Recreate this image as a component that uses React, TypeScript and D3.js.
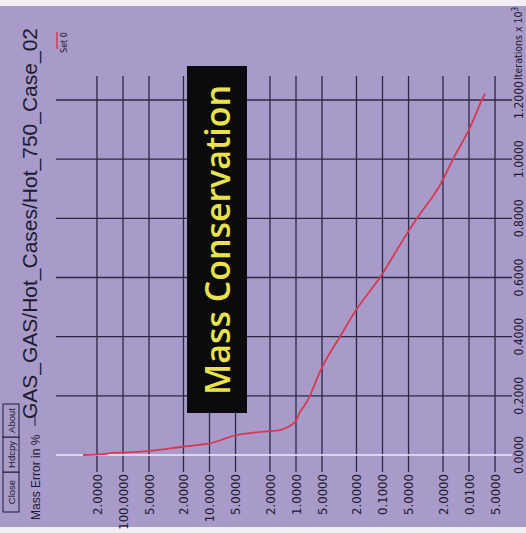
import React from "react";
import * as d3 from "d3";

const W = 526;
const H = 533;

// Data (iterations in thousands, mass error in %)
const iterations = [0, 0.003, 0.007, 0.008, 0.013, 0.027, 0.04, 0.067, 0.081, 0.084, 0.111, 0.145, 0.169, 0.2, 0.243, 0.28, 0.327, 0.4, 0.5, 0.6, 0.7, 0.8, 0.9, 1.0, 1.1, 1.2, 1.222];
const massError = [290, 165, 137, 105, 51.6, 21.5, 9.7, 4.9, 2.0, 1.53, 1.03, 0.9, 0.79, 0.69, 0.6, 0.53, 0.44, 0.31, 0.192, 0.107, 0.066, 0.04, 0.0229, 0.0153, 0.01, 0.0071, 0.0065];

const errTicks = [200, 100, 50, 20, 10, 5, 2, 1, 0.5, 0.2, 0.1, 0.05, 0.02, 0.01, 0.005];
const errTickLabels = ["2.0000", "100.0000", "5.0000", "2.0000", "10.0000", "5.0000", "2.0000", "1.0000", "5.0000", "2.0000", "0.1000", "5.0000", "2.0000", "0.0100", "5.0000"];
const iterTicks = [0, 0.2, 0.4, 0.6, 0.8, 1.0, 1.2];
const iterTickLabels = ["0.0000", "0.2000", "0.4000", "0.6000", "0.8000", "1.0000", "1.2000"];

const title = "GAS_GAS/Hot_Cases/Hot_750_Case_02";
const buttons = ["Close", "Hdcpy", "About"];

const BG = "#a89bc9";
const GRID = "#2c2742";
const INK = "#1e1a30";
const NARROW = "'Liberation Sans Narrow', 'DejaVu Sans Condensed', 'Liberation Sans', sans-serif";
const SANS = "'Liberation Sans', Arial, sans-serif";

export default function App() {
  // Chart is shown rotated 90deg counter-clockwise: iterations run upward, error decreases to the right
  const x = d3.scaleLog().domain([1, 0.01]).range([296, 469]);
  const y = d3.scaleLinear().domain([0, 1.2]).range([455, 100]);

  const pts: [number, number][] = iterations.map((it, i) => [x(massError[i]), y(it)]);
  const line = d3
    .line<[number, number]>()
    .x((d) => d[0])
    .y((d) => d[1])
    .curve(d3.curveCatmullRom.alpha(0.5));

  const gridLeft = 56;
  const gridRight = 512;
  const vTop = 76;
  const vBottom = 472;

  const btnBoxes = [
    { label: buttons[0], y0: 472, y1: 512 },
    { label: buttons[1], y0: 437, y1: 472 },
    { label: buttons[2], y0: 404, y1: 437 },
  ];

  return (
    <svg width={W} height={H} style={{ position: "absolute", left: 0, top: 0, display: "block" }}>
      <rect x={0} y={0} width={W} height={H} fill={BG} />
      <rect x={0} y={0} width={W} height={6} fill="#f1eff4" />
      <rect x={0} y={527} width={W} height={6} fill="#f1eff4" />

      {/* horizontal gridlines (iterations) */}
      {iterTicks.map((t, i) =>
        i === 0 ? null : (
          <line key={"h" + i} x1={gridLeft} x2={gridRight} y1={y(t)} y2={y(t)} stroke={GRID} strokeWidth={1.3} />
        )
      )}
      {/* vertical gridlines (mass error, log) */}
      {errTicks.map((t, i) => (
        <line key={"v" + i} x1={x(t)} x2={x(t)} y1={vTop} y2={vBottom} stroke={GRID} strokeWidth={1.3} />
      ))}
      {/* zero iteration line */}
      <line x1={gridLeft} x2={gridRight} y1={y(0)} y2={y(0)} stroke="#eeeaf4" strokeWidth={1.6} />

      {/* error tick labels */}
      {errTicks.map((t, i) => (
        <text
          key={"el" + i}
          transform={`translate(${x(t)},${474}) rotate(-90)`}
          textAnchor="end"
          dy="0.36em"
          fontFamily={NARROW}
          fontSize={13}
          fill={INK}
        >
          {errTickLabels[i]}
        </text>
      ))}

      {/* iteration tick labels */}
      {iterTicks.map((t, i) => (
        <text
          key={"il" + i}
          transform={`translate(${523},${y(t)}) rotate(-90)`}
          textAnchor="middle"
          fontFamily={NARROW}
          fontSize={12}
          fill={INK}
        >
          {iterTickLabels[i]}
        </text>
      ))}

      {/* axis title for iterations */}
      <text transform={`translate(522,80) rotate(-90)`} textAnchor="start" fontFamily={NARROW} fontSize={10.5} fill={INK}>
        Iterations x 10
        <tspan dy="-4" fontSize={8}>3</tspan>
      </text>

      {/* curve */}
      <path d={line(pts) || ""} fill="none" stroke="#d63a52" strokeWidth={1.8} />

      {/* Mass Conservation annotation */}
      <rect x={187} y={66} width={60} height={347} fill="#0b0b0d" />
      <text
        transform={`translate(230,${395}) rotate(-90)`}
        textAnchor="start"
        fontFamily="'Open Sans', 'DejaVu Sans', sans-serif"
        fontWeight={600}
        fontSize={35}
        textLength={310}
        lengthAdjust="spacingAndGlyphs"
        fill="#e9e24c"
      >
        Mass Conservation
      </text>

      {/* title */}
      <text transform={`translate(37,28) rotate(-90)`} textAnchor="end" fontFamily={SANS} fontSize={21} fill={INK}>
        {title}
      </text>

      {/* buttons */}
      {btnBoxes.map((b, i) => (
        <g key={"b" + i}>
          <rect x={3} y={b.y0} width={16} height={b.y1 - b.y0} fill={BG} stroke={INK} strokeWidth={1} />
          <text
            transform={`translate(${15},${(b.y0 + b.y1) / 2}) rotate(-90)`}
            textAnchor="middle"
            fontFamily={SANS}
            fontSize={9.5}
            fill={INK}
          >
            {b.label}
          </text>
        </g>
      ))}

      {/* y-axis label */}
      <text transform={`translate(40,520) rotate(-90)`} textAnchor="start" fontFamily={SANS} fontSize={12} fill={INK}>
        Mass Error in %
      </text>
      <line x1={35} x2={35} y1={414} y2={426} stroke={INK} strokeWidth={1} />

      {/* legend */}
      <line x1={57} x2={57} y1={32} y2={49} stroke="#d63a52" strokeWidth={1.5} />
      <text transform={`translate(67,53) rotate(-90)`} textAnchor="start" fontFamily={NARROW} fontSize={9} fill={INK}>
        Set 0
      </text>
    </svg>
  );
}
